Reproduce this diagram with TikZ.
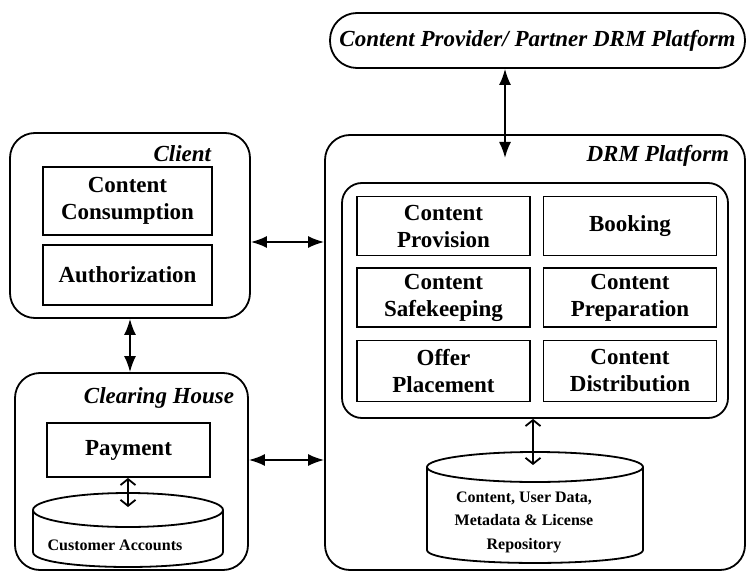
\documentclass[tikz,border=0pt]{standalone}
\usepackage{fontspec}
\setmainfont{Liberation Serif}
\usetikzlibrary{positioning,arrows.meta}

\begin{document}
\begin{tikzpicture}[x=1pt,y=-1pt,line width=1.8pt,
    grp/.style={draw,rounded corners=25pt,inner sep=0pt},
    blk/.style={draw,align=center,inner sep=0pt,font=\fontsize{23}{27}\selectfont\bfseries},
    ttl/.style={anchor=base east,inner sep=0pt,font=\fontsize{23}{27}\selectfont\bfseries\itshape},
    dbtxt/.style={align=center,inner sep=0pt,font=\fontsize{16}{23.5}\selectfont\bfseries},
    link/.style={{Latex[length=16pt,width=12pt]}-{Latex[length=16pt,width=12pt]}},
    barb/.style={{Straight Barb[length=6pt,width=15pt]}-{Straight Barb[length=6pt,width=15pt]}}]
  \useasboundingbox (0,0) rectangle (746,572);

  % partner and DRM platform
  \node[grp,rounded corners=27pt,minimum width=415pt,minimum height=55pt,
        font=\fontsize{23}{27}\selectfont\bfseries\itshape] (partner) at (537.5,40.5)
        {Content Provider/ Partner DRM Platform};
  \node[grp,minimum width=420pt,minimum height=435pt] (drm) at (535,352.5) {};
  \node[ttl] (drmlbl) at (730,161) {DRM Platform};
  \node[grp,rounded corners=20pt,minimum width=386pt,minimum height=235pt] (core) at (535,300.5) {};
  \node[blk,minimum width=173pt,minimum height=59pt] (prov) at (443.5,226) {Content\\Provision};
  \node[blk,minimum width=173pt,minimum height=59pt] (book) at (630,226) {Booking};
  \node[blk,minimum width=173pt,minimum height=59pt] (safe) at (443.5,297.5) {Content\\Safekeeping};
  \node[blk,minimum width=173pt,minimum height=59pt] (prep) at (630,297.5) {Content\\Preparation};
  \node[blk,minimum width=173pt,minimum height=61pt] (offer) at (443.5,371) {Offer\\Placement};
  \node[blk,minimum width=173pt,minimum height=61pt] (dist) at (630,371) {Content\\Distribution};

  % repository
  \draw (427,467) -- (427,550) .. controls (427,567.3) and (643,567.3) .. (643,550) -- (643,467);
  \draw (535,467) ellipse [x radius=108, y radius=15];
  \coordinate (repo) at (533,465);
  \node[dbtxt] (repolbl) at (524,522) {Content, User Data,\\Metadata \& License\\Repository};

  % client
  \node[grp,minimum width=240pt,minimum height=185pt] (client) at (130,225.5) {};
  \node[ttl] (clientlbl) at (212,162) {Client};
  \node[blk,minimum width=169pt,minimum height=68pt] (consume) at (127.5,201) {Content\\Consumption};
  \node[blk,minimum width=169pt,minimum height=60pt] (auth) at (127.5,275) {Authorization};

  % clearing house
  \node[grp,minimum width=233pt,minimum height=197pt] (clearing) at (131.5,471.5) {};
  \node[ttl] (clearinglbl) at (235,403) {Clearing House};
  \node[blk,minimum width=163pt,minimum height=54pt] (payment) at (128.5,450) {Payment};
  \draw (33,510) -- (33,552) .. controls (33,572) and (223,572) .. (223,552) -- (223,510);
  \draw (128,510) ellipse [x radius=95, y radius=17];
  \coordinate (acct) at (128,507);
  \node[dbtxt,anchor=base] (acctlbl) at (115,550) {Customer Accounts};

  % connectors
  \coordinate (a1) at (0,242);
  \coordinate (a2) at (0,460);
  \coordinate (a3) at (505,158);
  \draw[link] (partner.south -| a3) -- (a3);
  \draw[link] (client.east |- a1) -- (drm.west |- a1);
  \draw[link] (client.south) -- (client.south |- clearing.north);
  \draw[link] (clearing.east |- a2) -- (drm.west |- a2);
  \draw[barb] (payment.south -| acct) -- (acct);
  \draw[barb] (core.south -| repo) -- (repo);
\end{tikzpicture}
\end{document}
